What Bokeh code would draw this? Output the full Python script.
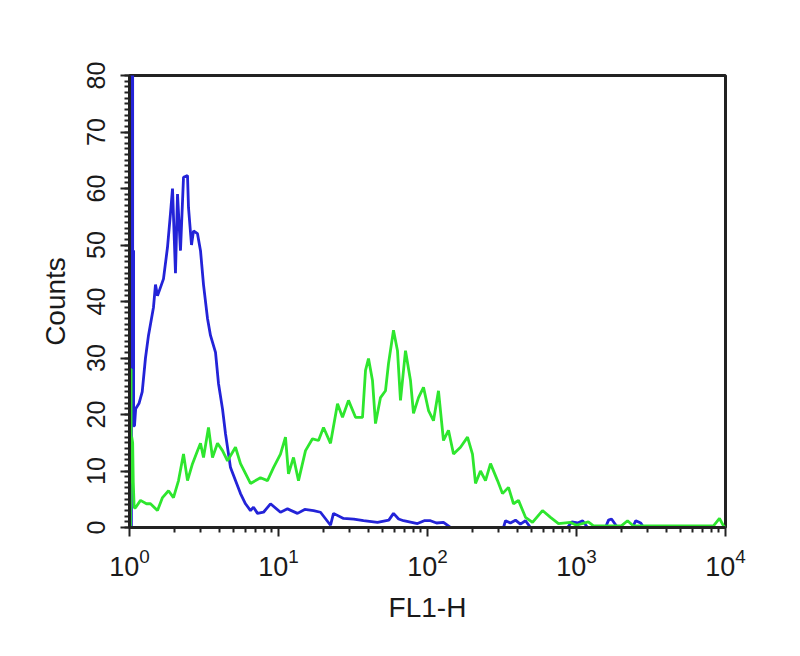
from bokeh.plotting import figure
from bokeh.models import Range1d, SingleIntervalTicker, FixedTicker
from bokeh.embed import file_html
from bokeh.resources import INLINE

# FL1-H channel values and counts
blue_x = [1.03, 1.03, 1.05, 1.05, 1.065, 1.065, 1.08, 1.1, 1.16, 1.217, 1.28, 1.341, 1.449, 1.494,
          1.541, 1.691, 1.799, 1.884, 1.944, 2.035, 2.1, 2.199, 2.304, 2.451, 2.489, 2.607, 2.689,
          2.86, 2.996, 3.138, 3.338, 3.496, 3.778, 3.956, 4.209, 4.409, 4.763, 5.145, 5.559, 6.004,
          6.487, 6.796, 7.229, 7.932, 8.837, 10.31, 11.5, 13.41, 15.0, 17.18, 19.14, 22.34, 23.39,
          27.31, 32.0, 37.21, 46.17, 55.0, 59.13, 64.0, 69.0, 85.68, 95.0, 104.7, 115.0, 128.0,
          142.7, 323.7, 333.9, 360.0, 389.6, 420.0, 454.7, 491.0, 870.0, 930.0, 1016.0, 1100.0,
          1185.0, 1565.0, 1640.0, 1718.0, 1885.0, 2376.0, 2500.0, 2700.0, 2817.0, 10000.0]
blue_y = [0, 85, 85, 49, 49, 18, 18, 21, 22, 24, 30, 34, 39, 43,
          41, 44, 49.6, 55.6, 60, 45, 59, 49, 62, 62.3, 56.6, 50, 52.5,
          52, 49, 43, 37, 34, 31, 25.5, 21, 16.6, 10.6, 8.3, 6, 4.2,
          3, 3.6, 2.5, 2.7, 4.2, 2.7, 3.3, 2.5, 3.2, 3, 2.7, 0.4, 2.5,
          1.6, 1.5, 1.2, 0.9, 1.3, 2.5, 1.5, 1.2, 0.7, 1.2, 1.2, 0.8, 0.9,
          0, 0, 1.2, 0.8, 1.3, 0.6, 1.2, 0, 0, 1.0, 0.8, 1.2,
          0, 0, 1.3, 1.5, 0, 0, 1.2, 0.8, 0, 0]

green_x = [1.015, 1.015, 1.025, 1.025, 1.035, 1.05, 1.06, 1.075, 1.097, 1.185, 1.3, 1.383, 1.541,
           1.665, 1.827, 1.973, 2.133, 2.304, 2.451, 2.648, 2.86, 2.996, 3.138, 3.39, 3.606, 3.896,
           4.209, 4.548, 5.145, 5.559, 6.487, 7.571, 8.437, 9.257, 10.31, 11.14, 11.67, 12.61, 13.62,
           15.18, 16.91, 18.56, 20.05, 22.34, 24.89, 26.89, 29.5, 32.87, 36.63, 38.37, 40.18, 42.74,
           44.77, 48.37, 52.25, 54.73, 59.13, 62.89, 65.87, 71.18, 76.89, 80.54, 87.02, 94.02, 101.6,
           109.7, 118.5, 128.0, 138.3, 149.5, 166.5, 185.6, 200.4, 210.0, 226.8, 245.1, 264.8, 295.1,
           318.7, 349.6, 377.7, 408.1, 454.7, 506.7, 591.3, 669.1, 757.1, 911.2, 1000.0, 1200.0,
           1300.0, 2000.0, 2200.0, 2400.0, 8308.0, 9113.0, 9700.0, 10000.0]
green_y = [0, 28, 28, 10, 16, 15, 8, 3.5, 3.5, 4.8, 4.2, 4.2, 3,
           5.3, 6.5, 5.3, 8.3, 13, 8.3, 11.3, 13.6, 14.9, 12.4, 17.7, 12.4, 14.9,
           13.6, 11.8, 14.2, 11.3, 7.8, 8.8, 8.3, 10.6, 13, 16, 9.5, 12.4, 8.3,
           13.6, 15.7, 15.4, 17.7, 14.9, 21.9, 19.5, 22.5, 19.5, 19.5, 27.8, 29.9, 26,
           18.4, 23, 24.2, 29, 34.9, 31.3, 22.5, 31.3, 26, 20.2, 23, 24.8, 20.7,
           18.9, 24.2, 15.4, 17.2, 13, 14.2, 16, 13, 7.8, 10, 8.3, 11.3, 8.3,
           6, 7.1, 4.2, 4.8, 1.8, 0.9, 3, 1.8, 0.7, 0.9, 0.4, 1,
           0.3, 0.3, 1.2, 0.3, 0.3, 1.6, 0.3, 0]

x_major = [1, 10, 100, 1000, 10000]
x_minor = [m * 10 ** k for k in range(4) for m in range(2, 10)]

FONT = "Liberation Sans"

p = figure(width=780, height=630, x_axis_type="log",
           x_range=Range1d(1, 10000), y_range=Range1d(0, 80),
           output_backend="svg", toolbar_location=None,
           min_border_left=129, min_border_top=75, min_border_right=55, min_border_bottom=103)

p.line(blue_x, blue_y, line_color="#2323d8", line_width=2.8)
p.line(green_x, green_y, line_color="#2ee62e", line_width=2.8)

p.xgrid.visible = False
p.ygrid.visible = False
p.outline_line_color = "#222222"
p.outline_line_width = 3
p.outline_line_alpha = 1.0

p.yaxis.ticker = SingleIntervalTicker(interval=10, num_minor_ticks=10)
p.xaxis.ticker = FixedTicker(ticks=x_major, minor_ticks=x_minor)

for ax in (p.xaxis[0], p.yaxis[0]):
    ax.axis_line_color = "#222222"
    ax.axis_line_width = 3
    ax.major_tick_line_width = 2
    ax.minor_tick_line_width = 2
    ax.major_tick_line_color = "#222222"
    ax.minor_tick_line_color = "#222222"
    ax.major_tick_in = 0
    ax.minor_tick_in = 0
    ax.major_tick_out = 9
    ax.minor_tick_out = 5
    ax.major_label_text_font = FONT
    ax.major_label_text_color = "#1a1a1a"
    ax.axis_label_text_font = FONT
    ax.axis_label_text_font_style = "normal"
    ax.axis_label_text_color = "#1a1a1a"

p.yaxis.axis_label = "Counts"
p.xaxis.axis_label = "FL1-H"
p.yaxis.major_label_orientation = "vertical"
p.yaxis.major_label_text_font_size = "25px"
p.xaxis.major_label_text_font_size = "27px"
p.yaxis.axis_label_text_font_size = "28px"
p.xaxis.axis_label_text_font_size = "28px"
p.yaxis.major_label_standoff = 16
p.xaxis.major_label_standoff = 11
p.yaxis.axis_label_standoff = 13
p.xaxis.axis_label_standoff = 13

open("out.html", "w").write(file_html(p, INLINE))
